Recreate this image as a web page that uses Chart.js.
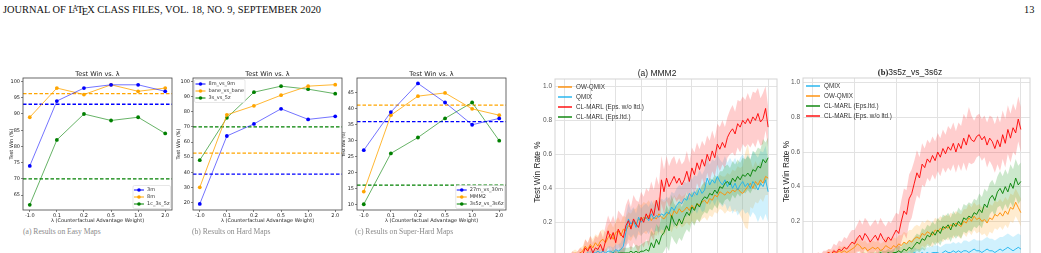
<!DOCTYPE html>
<html>
<head>
<meta charset="utf-8">
<script src="https://cdn.jsdelivr.net/npm/chart.js@4.4.0/dist/chart.umd.min.js"></script>
<style>
html,body{margin:0;padding:0;background:#fff;}
body{width:1041px;height:253px;overflow:hidden;position:relative;}
canvas{position:absolute;}
.hd{position:absolute;top:4px;font-family:"Liberation Serif","DejaVu Serif",serif;font-size:10.4px;color:#111;white-space:nowrap;}
.cap{position:absolute;top:227px;font-family:"Liberation Serif","DejaVu Serif",serif;font-size:7.6px;color:#8a8a8a;white-space:nowrap;}
</style>
</head>
<body>
<div class="hd" style="left:3px">JOURNAL OF L<span style="font-size:0.72em;vertical-align:0.28em;margin-left:-0.32em;margin-right:-0.12em">A</span>T<span style="vertical-align:-0.22em;margin-left:-0.14em;margin-right:-0.1em">E</span>X CLASS FILES, VOL. 18, NO. 9, SEPTEMBER 2020</div>
<div class="hd" style="left:1024px">13</div>

<canvas id="easy" width="180" height="162" style="left:0;top:62px"></canvas>
<canvas id="hard" width="175" height="162" style="left:175px;top:62px"></canvas>
<canvas id="super" width="175" height="162" style="left:340px;top:62px"></canvas>
<canvas id="mmm2" width="258" height="218" style="left:525px;top:62px"></canvas>
<canvas id="ssz" width="266" height="218" style="left:775px;top:62px"></canvas>

<div class="cap" style="left:23px">(a) Results on Easy Maps</div>
<div class="cap" style="left:192px">(b) Results on Hard Maps</div>
<div class="cap" style="left:355px">(c) Results on Super-Hard Maps</div>

<script>
// ---- lambda sweep (left three panels) ----
const lamLabels = ['-1.0', '0.1', '0.2', '0.5', '1.0', '2.0'];

const easyNames = ['3m', '8m', '1c_3s_5z'];
const easy3m = [74, 94, 98, 99, 99, 97];
const easy8m = [89, 98, 96, 99, 97, 98];
const easy1c = [62, 82, 90, 88, 89, 84];
const easyBase = [93.0, 96.3, 70.0];
const easyTicks = [65, 70, 75, 80, 85, 90, 95, 100];

const hardNames = ['8m_vs_9m', 'bane_vs_bane', '3s_vs_5z'];
const hard8m = [19, 64, 72, 82, 75, 77];
const hardBane = [30, 78, 84, 91, 97, 98];
const hard3s = [48, 76, 93, 97, 95, 92];
const hardBase = [38.8, 52.7, 70.0];
const hardTicks = [20, 30, 40, 50, 60, 70, 80, 90, 100];

const superNames = ['27m_vs_30m', 'MMM2', '3s5z_vs_3s6z'];
const super27m = [27, 39, 48, 42, 35, 37];
const superMMM2 = [14, 38, 44, 45, 40, 38];
const super3s5z = [10, 26, 31, 37, 42, 30];
const superBase = [36.0, 41.2, 16.0];
const superTicks = [10, 15, 20, 25, 30, 35, 40, 45];

// ---- learning curves (right two panels), win rate in % ----
const winTicks = [0, 0.2, 0.4, 0.6, 0.8, 1.0];

const mmmStep = 0.1;
const mmmGrid = [0, 1, 2, 3, 4, 5, 6, 7, 8];
const mmmRed = [0,0,0,1,0,1,2,1, 5,3,6,2,5,4,7,3, 9,15,10,14,8,16,13,11, 18,21,16,22,19,17,23,20,
  25,22,28,24,33,27,45,38, 46,41,44,47,43,46,42,45, 50,44,52,48,55,51,57,53, 60,56,62,58,66,63,67,64,
  70,73,75,72,78,76,80,78, 81,78,82,80,84,79,81,87, 76];
const mmmRedSd = [1,1,1,2,2,2,3,3, 5,5,6,6,7,7,8,8, 9,9,10,10,11,11,12,12, 12,13,13,14,14,15,15,15,
  15,16,16,15,14,15,14,13, 13,12,13,12,11,12,12,11, 12,11,12,13,12,12,11,12, 11,12,12,11,12,13,13,12,
  12,13,14,13,14,15,14,14, 15,14,15,16,15,14,15,13, 12];
const mmmOrange = [0,1,0,1,2,1,2,3, 6,4,7,5,8,6,9,10, 8,11,13,10,14,15,12,16, 15,18,17,20,19,22,21,23,
  22,24,21,23,22,25,23,22, 24,26,23,27,25,28,26,27, 29,27,30,28,31,30,32,33, 31,34,33,36,35,38,37,36,
  38,37,39,38,40,38,37,39, 41,43,40,44,42,45,43,47, 46];
const mmmOrangeSd = [1,1,1,2,2,2,3,3, 4,4,5,5,5,6,6,6, 6,7,7,7,7,8,8,8, 8,8,8,8,9,9,9,9,
  9,9,9,10,10,10,10,10, 9,9,9,9,9,9,9,9, 9,9,9,9,9,10,10,10, 10,10,10,10,10,10,10,11,
  11,11,12,12,13,14,16,22, 25,14,12,12,11,11,11,11, 10];
const mmmBlue = [0,0,1,0,1,1,0,1, 1,2,1,2,2,3,2,3, 2,3,3,2,4,3,4,6, 14,22,19,21,17,23,20,22,
  23,21,25,22,24,23,25,24, 26,25,29,27,30,32,31,34, 33,37,35,38,36,40,37,39, 46,42,45,43,47,44,42,45,
  41,44,40,43,39,42,44,41, 43,40,44,42,39,43,41,45, 38];
const mmmBlueSd = [1,1,1,1,1,1,1,1, 1,1,2,2,2,2,2,2, 2,3,3,3,3,4,4,6, 10,9,8,8,8,8,8,8,
  8,8,8,8,9,9,9,9, 9,9,9,10,10,10,10,10, 10,10,10,10,11,11,11,12, 12,12,12,13,13,13,13,14,
  14,14,15,15,15,16,16,16, 17,17,18,18,19,19,20,20, 18];
const mmmGreen = [0,0,0,0,0,0,0,0, 0,0,1,0,1,1,0,1, 1,1,1,2,1,2,2,2, 2,2,3,2,3,2,3,3,
  4,3,8,5,10,7,12,14, 18,15,24,20,18,22,19,23, 26,24,29,27,31,29,33,35, 34,37,36,39,37,41,40,43,
  44,42,46,44,47,45,48,47, 49,47,51,50,53,52,57,55, 58];
const mmmGreenSd = [0,0,0,0,0,0,0,0, 1,1,1,1,1,1,1,1, 1,1,2,2,2,2,2,3, 3,3,3,3,4,4,4,5,
  5,6,7,8,9,10,11,11, 12,12,12,11,11,11,10,10, 10,10,9,9,9,9,9,9, 9,9,9,9,9,9,10,10,
  10,10,10,10,10,10,10,10, 10,10,11,11,11,11,12,12, 12];

const sszStep = 0.0625;
const sszGrid = [0, 1, 2, 3, 4, 5];
const sszRed = [0,0,1,0,1,1,2,1, 3,2,4,3,5,4,6,8, 7,10,12,9,13,11,8,10, 12,9,13,10,8,11,9,12,
  15,13,20,26,24,33,36,42, 48,45,53,51,56,54,58,55, 60,57,62,59,63,61,65,60, 65,62,68,64,70,67,66,69,
  70,67,69,64,68,66,62,67, 63,70,65,73,68,74,71,79, 73];
const sszRedSd = [1,1,1,1,2,2,2,3, 4,4,5,5,6,6,7,7, 8,8,9,9,9,9,9,9, 9,9,9,9,9,9,10,10,
  10,11,12,13,14,14,14,13, 13,12,12,11,11,11,11,11, 11,11,11,11,12,12,12,12, 12,13,14,15,16,14,12,12,
  12,12,12,13,13,14,14,14, 14,14,14,14,14,14,13,13, 13];
const sszOrange = [0,0,1,0,1,1,2,1, 2,1,3,2,3,2,3,4, 5,7,6,4,5,3,4,5, 4,5,3,4,6,5,4,6,
  5,7,6,8,7,9,8,10, 11,10,13,12,14,13,12,15, 14,16,15,17,16,18,17,19, 18,17,20,19,22,20,23,21,
  22,20,21,19,22,21,24,23, 25,23,26,24,28,27,31,28, 25];
const sszOrangeSd = [1,1,1,1,1,1,2,2, 2,2,3,3,3,3,3,4, 4,4,4,4,4,4,4,4, 4,4,4,4,5,5,5,5,
  5,5,6,6,6,6,7,7, 7,7,7,7,7,7,7,7, 7,7,7,7,7,7,7,7, 7,7,7,8,8,8,8,8,
  8,8,8,8,8,8,8,8, 8,8,8,8,8,8,8,8, 8];
const sszGreen = [0,0,0,0,0,0,0,0, 0,0,0,0,0,0,1,0, 0,1,0,1,1,0,1,1, 1,1,2,1,1,2,1,2,
  2,3,2,4,3,5,4,6, 8,7,10,9,12,11,14,12, 15,13,17,16,18,15,19,17, 20,18,22,21,23,22,25,24,
  27,25,30,28,33,35,32,37, 39,36,40,37,42,39,45,41, 43];
const sszGreenSd = [0,0,0,0,0,0,0,0, 0,0,0,0,1,1,1,1, 1,1,1,1,1,1,1,1, 1,1,2,2,2,2,2,2,
  3,3,3,4,4,4,5,5, 5,5,6,6,6,6,6,6, 7,7,7,7,7,7,7,7, 8,8,8,8,8,8,8,8,
  9,9,9,9,9,9,9,9, 10,10,10,10,11,11,11,11, 11];
const sszBlue = [0,0,0,0,0,0,0,0, 0,0,0,0,0,0,0,0, 0,0,1,0,0,1,0,0, 1,0,1,1,0,1,1,0,
  1,0,1,1,0,1,1,2, 1,1,2,1,2,1,2,2, 2,1,2,3,2,2,3,2, 3,2,3,3,2,3,4,3,
  3,2,3,4,3,3,2,3, 4,3,4,5,4,3,4,5, 4];
const sszBlueSd = [0,0,0,0,0,0,0,0, 0,0,0,0,1,1,1,1, 1,1,1,1,1,1,1,1, 1,1,1,1,1,1,2,2,
  2,2,2,2,2,2,3,3, 3,3,3,3,3,4,4,4, 4,4,4,4,5,5,5,5, 5,5,6,6,6,6,6,6,
  6,7,7,7,7,7,7,7, 7,8,8,8,8,8,8,8, 8];

// draws frame, title and an in-axes legend
const deco = {
  id: 'deco',
  afterDraw(chart, _args, o) {
    const ctx = chart.ctx, a = chart.chartArea;
    ctx.save();
    if (o.box) {
      ctx.strokeStyle = o.box;
      ctx.lineWidth = o.boxWidth || 0.8;
      ctx.strokeRect(a.left, a.top, a.right - a.left, a.bottom - a.top);
    }
    if (o.title) {
      const t = o.title;
      ctx.textBaseline = 'middle';
      ctx.textAlign = 'left';
      let w = 0;
      t.parts.forEach(p => { ctx.font = p.font; w += ctx.measureText(p.text).width; });
      let x = (t.x != null ? t.x : (a.left + a.right) / 2) - w / 2;
      t.parts.forEach(p => {
        ctx.font = p.font;
        ctx.fillStyle = '#222';
        ctx.fillText(p.text, x, t.y);
        x += ctx.measureText(p.text).width;
      });
    }
    const L = o.legend;
    if (L) {
      ctx.font = L.font;
      const tw = Math.max(...L.items.map(it => ctx.measureText(it.label).width));
      const bw = L.pad * 2 + L.handle + L.gap + tw;
      const bh = L.items.length * L.row + L.pad * 2;
      const x0 = L.corner[1] === 'r' ? a.right - L.inset - bw : a.left + L.inset;
      const y0 = L.corner[0] === 'b' ? a.bottom - L.inset - bh : a.top + L.inset;
      if (L.frame) {
        ctx.beginPath();
        ctx.roundRect(x0, y0, bw, bh, 1.5);
        ctx.fillStyle = 'rgba(255,255,255,0.85)';
        ctx.fill();
        ctx.strokeStyle = '#d6d6d6';
        ctx.lineWidth = 0.6;
        ctx.stroke();
      }
      L.items.forEach((it, i) => {
        const cy = y0 + L.pad + L.row * (i + 0.5);
        const hx = x0 + L.pad;
        ctx.strokeStyle = it.line;
        ctx.lineWidth = L.lineWidth;
        ctx.beginPath();
        ctx.moveTo(hx, cy);
        ctx.lineTo(hx + L.handle, cy);
        ctx.stroke();
        if (it.point) {
          ctx.fillStyle = it.point;
          ctx.beginPath();
          ctx.arc(hx + L.handle / 2, cy, 1.8, 0, Math.PI * 2);
          ctx.fill();
        }
        ctx.fillStyle = '#333';
        ctx.textAlign = 'left';
        ctx.textBaseline = 'middle';
        ctx.fillText(it.label, hx + L.handle + L.gap, cy);
      });
    }
    ctx.restore();
  }
};

const ptCol = ['#0000ff', '#ffa500', '#008000'];
const lnCol = ['rgba(0,0,255,0.55)', 'rgba(255,165,0,0.8)', 'rgba(0,128,0,0.6)'];
const lamMin = -0.25, lamMax = 5.25;

function lambdaChart(id, names, series, base, ticks, yMin, yMax, yw, padL, padR, corner, yFont) {
  const ds = [];
  series.forEach((vals, i) => {
    ds.push({
      data: vals.map((v, k) => ({ x: k, y: v })),
      borderColor: lnCol[i], borderWidth: 1,
      pointRadius: 1.9, pointBackgroundColor: ptCol[i], pointBorderWidth: 0,
      order: 1
    });
  });
  base.forEach((b, i) => {
    ds.push({
      data: [{ x: lamMin, y: b }, { x: lamMax, y: b }],
      borderColor: ptCol[i], borderWidth: 1.3, borderDash: [3.5, 2],
      pointRadius: 0, order: 2
    });
  });
  const tickGrid = { display: true, drawOnChartArea: false, drawTicks: true, tickLength: 2, color: '#333', lineWidth: 0.6 };
  return new Chart(document.getElementById(id), {
    type: 'line',
    data: { datasets: ds },
    options: {
      responsive: false, animation: false,
      layout: { padding: { top: 16, left: padL, right: padR, bottom: 0 } },
      plugins: {
        legend: { display: false }, tooltip: { enabled: false },
        deco: {
          box: '#444',
          title: { y: 12, parts: [{ text: 'Test Win vs. λ', font: '6.5px "DejaVu Sans"' }] },
          legend: {
            corner: corner, inset: 1.5, pad: 1, row: 7, handle: 10, gap: 3, lineWidth: 1, frame: true,
            font: '5px "DejaVu Sans"',
            items: names.map((n, i) => ({ label: n, line: ptCol[i], point: ptCol[i] }))
          }
        }
      },
      scales: {
        x: {
          type: 'linear', min: lamMin, max: lamMax,
          afterBuildTicks: s => { s.ticks = lamLabels.map((_, k) => ({ value: k })); },
          ticks: { callback: v => lamLabels[v], font: { size: 5 }, color: '#222', padding: 1, maxRotation: 0, autoSkip: false },
          grid: tickGrid, border: { display: false },
          title: { display: true, text: 'λ (Counterfactual Advantage Weight)', font: { size: 5 }, color: '#222', padding: { top: 0, bottom: 0 } },
          afterFit: s => { s.height = 14; }
        },
        y: {
          min: yMin, max: yMax,
          afterBuildTicks: s => { s.ticks = ticks.map(v => ({ value: v })); },
          ticks: { font: { size: 5 }, color: '#222', padding: 1, autoSkip: false },
          grid: tickGrid, border: { display: false },
          title: { display: true, text: 'Test Win (%)', font: { size: yFont }, color: '#222', padding: { top: 0, bottom: 0 } },
          afterFit: s => { s.width = yw; }
        }
      }
    },
    plugins: [deco]
  });
}

Chart.defaults.font.family = '"DejaVu Sans", sans-serif';

lambdaChart('easy', easyNames, [easy3m, easy8m, easy1c], easyBase, easyTicks, 60.4, 101.1, 14, 9, 8, 'br', 5);
lambdaChart('hard', hardNames, [hard8m, hardBane, hard3s], hardBase, hardTicks, 15, 102.4, 17, 1, 8, 'tl', 5);
lambdaChart('super', superNames, [super27m, superMMM2, super3s5z], superBase, superTicks, 8.2, 49.7, 15, 2, 9, 'br', 4);

// ---- learning curves ----
const curveCol = {
  red: ['#ff0000', 'rgba(255,60,60,0.25)'],
  green: ['#008000', 'rgba(0,140,0,0.2)'],
  blue: ['#1ab2ee', 'rgba(40,190,245,0.22)'],
  orange: ['#ff8c00', 'rgba(255,170,40,0.22)']
};

function curveSets(mean, sd, step, col, ord) {
  const pts = arr => arr.map((v, i) => ({ x: i * step, y: v / 100 }));
  const up = mean.map((v, i) => v + sd[i]);
  const lo = mean.map((v, i) => v - sd[i]);
  return [
    { data: pts(up), borderWidth: 0, pointRadius: 0, fill: '+1', backgroundColor: curveCol[col][1], order: 10 },
    { data: pts(lo), borderWidth: 0, pointRadius: 0, fill: false, order: 10 },
    { data: pts(mean), borderColor: curveCol[col][0], borderWidth: 0.9, pointRadius: 0, fill: false, order: ord }
  ];
}

function curveChart(id, sets, grid, xMin, xMax, yMin, yMax, yw, padL, padR, padT, title, legendItems) {
  const ds = [].concat(...sets);
  return new Chart(document.getElementById(id), {
    type: 'line',
    data: { datasets: ds },
    options: {
      responsive: false, animation: false,
      layout: { padding: { top: padT, left: padL, right: padR, bottom: 0 } },
      plugins: {
        legend: { display: false }, tooltip: { enabled: false },
        deco: {
          box: '#d4d4d4', boxWidth: 1,
          title: title,
          legend: {
            corner: 'tl', inset: 3, pad: 0, row: 10, handle: 14, gap: 4, lineWidth: 1.4, frame: false,
            font: '6.3px "Liberation Sans"',
            items: legendItems.map(c => ({ label: c[0], line: curveCol[c[1]][0] }))
          }
        }
      },
      scales: {
        x: {
          type: 'linear', min: xMin, max: xMax,
          afterBuildTicks: s => { s.ticks = grid.map(v => ({ value: v })); },
          ticks: { display: false },
          grid: { color: '#e2e2e2', lineWidth: 1, drawTicks: false },
          border: { display: false },
          afterFit: s => { s.height = 15; }
        },
        y: {
          min: yMin, max: yMax,
          afterBuildTicks: s => { s.ticks = winTicks.map(v => ({ value: v })); },
          ticks: { callback: v => v.toFixed(1), font: { size: 6.5, family: '"Liberation Sans"' }, color: '#555', padding: 3, autoSkip: false },
          grid: { color: '#e2e2e2', lineWidth: 1, drawTicks: false },
          border: { display: false },
          title: { display: true, text: 'Test Win Rate %', font: { size: 8.3, family: '"Liberation Sans"' }, color: '#222', padding: { top: 0, bottom: 0 } },
          afterFit: s => { s.width = yw; }
        }
      }
    },
    plugins: [deco]
  });
}

curveChart('mmm2', [
  curveSets(mmmGreen, mmmGreenSd, mmmStep, 'green', 1),
  curveSets(mmmRed, mmmRedSd, mmmStep, 'red', 2),
  curveSets(mmmBlue, mmmBlueSd, mmmStep, 'blue', 3),
  curveSets(mmmOrange, mmmOrangeSd, mmmStep, 'orange', 4)
], mmmGrid, -0.39, 8.35, -0.051, 1.043, 22, 8, 6, 17,
  { x: 132, y: 12, parts: [{ text: '(a) MMM2', font: '8.5px "Liberation Sans"' }] },
  [['OW-QMIX', 'orange'], ['QMIX', 'blue'], ['CL-MARL (Eps. w/o ltd.)', 'red'], ['CL-MARL (Eps.ltd.)', 'green']]);

curveChart('ssz', [
  curveSets(sszRed, sszRedSd, sszStep, 'red', 1),
  curveSets(sszGreen, sszGreenSd, sszStep, 'green', 2),
  curveSets(sszOrange, sszOrangeSd, sszStep, 'orange', 3),
  curveSets(sszBlue, sszBlueSd, sszStep, 'blue', 4)
], sszGrid, -0.24, 5.22, -0.052, 1.027, 21, 7, 11, 16,
  { x: 135, y: 11, parts: [{ text: '(b)', font: 'bold 8.5px "Liberation Serif"' }, { text: '3s5z_vs_3s6z', font: '8.5px "Liberation Sans"' }] },
  [['QMIX', 'blue'], ['OW-QMIX', 'orange'], ['CL-MARL (Eps.ltd.)', 'green'], ['CL-MARL (Eps. w/o ltd.)', 'red']]);
</script>
</body>
</html>
